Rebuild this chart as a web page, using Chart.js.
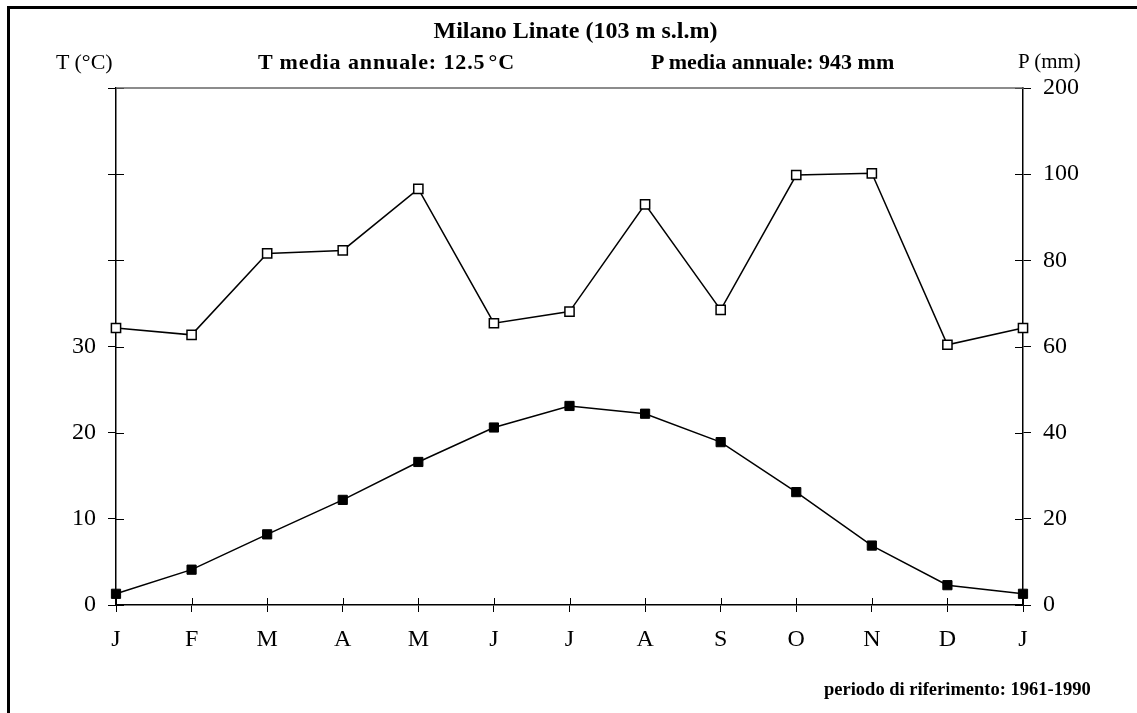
<!DOCTYPE html>
<html>
<head>
<meta charset="utf-8">
<script src="https://cdn.jsdelivr.net/npm/chart.js@4/dist/chart.umd.min.js"></script>
<style>
  html, body { margin:0; padding:0; background:#fff; }
  #wrap { position:relative; width:1137px; height:713px; overflow:hidden; font-family:"Liberation Serif", serif; color:#000; }
  #frame { position:absolute; left:7px; top:6px; width:1200px; height:800px; border-left:3px solid #000; border-top:3px solid #000; }
  canvas { position:absolute; left:0; top:0; }
  .t { position:absolute; white-space:nowrap; line-height:1; }
  .b { font-weight:bold; }
</style>
</head>
<body>
<div id="wrap">
  <div id="frame"></div>
  <canvas id="c" width="1137" height="713"></canvas>
  <div class="t b" style="left:430px;width:291px;text-align:center;top:18px;font-size:24px;">Milano Linate (103 m s.l.m)</div>
  <div class="t b" style="left:258px;top:51px;font-size:22px;letter-spacing:0.9px;">T media annuale: 12.5<span style="margin-left:3px">°</span>C</div>
  <div class="t b" style="left:651px;top:51px;font-size:22px;">P media annuale: 943 mm</div>
  <div class="t" style="left:56px;top:51px;font-size:22px;">T (°C)</div>
  <div class="t" style="left:1018px;top:51px;font-size:21px;">P (mm)</div>
  <div class="t b" style="left:824px;top:680px;font-size:18.5px;">periodo di riferimento: 1961-1990</div>
</div>
<script>
const months = ['J','F','M','A','M','J','J','A','S','O','N','D','J'];
const temperature = [1.3, 4.1, 8.2, 12.2, 16.6, 20.6, 23.1, 22.2, 18.9, 13.1, 6.9, 2.3, 1.3];
const precipitation = [64.3, 62.7, 81.6, 82.3, 96.6, 65.4, 68.1, 93.0, 68.5, 99.8, 100.2, 60.4, 64.3];
const tTickLabels = {0:'0', 10:'10', 20:'20', 30:'30'};
const pTickLabels = {0:'0', 20:'20', 40:'40', 60:'60', 80:'80', 100:'100', 120:'200'};

const tickFont = { family:'"Liberation Serif", serif', size:24 };

const innerTicks = {
  id:'innerTicks',
  afterDraw(chart){
    const ctx = chart.ctx, a = chart.chartArea;
    const yT = chart.scales.yT, yP = chart.scales.yP, x = chart.scales.x;
    ctx.save();
    ctx.lineWidth = 1;
    ctx.strokeStyle = '#000';
    const seg = (x1,y1,x2,y2)=>{ ctx.beginPath(); ctx.moveTo(x1,y1); ctx.lineTo(x2,y2); ctx.stroke(); };
    yT.ticks.forEach(t=>{ const y = Math.round(yT.getPixelForValue(t.value))+0.5; seg(a.left, y, a.left+8, y); });
    yP.ticks.forEach(t=>{ const y = Math.round(yP.getPixelForValue(t.value))+0.5; seg(a.right-8, y, a.right, y); });
    x.ticks.forEach((t,i)=>{ const px = Math.round(x.getPixelForTick(i))+0.5; seg(px, a.bottom-7, px, a.bottom); });
    ctx.strokeStyle = '#666';
    ctx.lineWidth = 1.5;
    seg(a.left, a.top, a.right, a.top);
    ctx.restore();
  }
};

new Chart(document.getElementById('c'), {
  type:'line',
  data:{
    labels: months,
    datasets:[
      { label:'P', data: precipitation, yAxisID:'yP', borderColor:'#000', borderWidth:1.5,
        pointStyle:'rect', pointRadius:6.5, pointBackgroundColor:'#fff', pointBorderColor:'#000', pointBorderWidth:1.5,
        tension:0, fill:false },
      { label:'T', data: temperature, yAxisID:'yT', borderColor:'#000', borderWidth:1.5,
        pointStyle:'rect', pointRadius:6.5, pointBackgroundColor:'#000', pointBorderColor:'#000', pointBorderWidth:1,
        tension:0, fill:false }
    ]
  },
  options:{
    responsive:false,
    animation:false,
    layout:{ padding:{ top:88, left:0, right:0, bottom:0 } },
    plugins:{ legend:{display:false}, tooltip:{enabled:false}, title:{display:false} },
    scales:{
      x:{
        type:'category', offset:false,
        grid:{ display:true, drawOnChartArea:false, drawTicks:true, tickLength:7, color:'#000', lineWidth:1 },
        border:{ display:true, color:'#000', width:1.5 },
        ticks:{ color:'#000', font:tickFont, padding:13, autoSkip:false, maxRotation:0 },
        afterFit(s){ s.height = 108; }
      },
      yT:{
        type:'linear', position:'left', min:0, max:60,
        grid:{ display:true, drawOnChartArea:false, drawTicks:true, tickLength:8, color:'#000', lineWidth:1 },
        border:{ display:true, color:'#000', width:1.5 },
        ticks:{ stepSize:10, color:'#000', font:tickFont, padding:12, callback:(v)=> tTickLabels[v] !== undefined ? tTickLabels[v] : '' },
        afterFit(s){ s.width = 116; }
      },
      yP:{
        type:'linear', position:'right', min:0, max:120,
        grid:{ display:true, drawOnChartArea:false, drawTicks:true, tickLength:8, color:'#000', lineWidth:1 },
        border:{ display:true, color:'#000', width:1.5 },
        ticks:{ stepSize:20, color:'#000', font:tickFont, padding:12, callback:(v)=> pTickLabels[v] !== undefined ? pTickLabels[v] : '' },
        afterFit(s){ s.width = 114; }
      }
    }
  },
  plugins:[innerTicks]
});
</script>
</body>
</html>
